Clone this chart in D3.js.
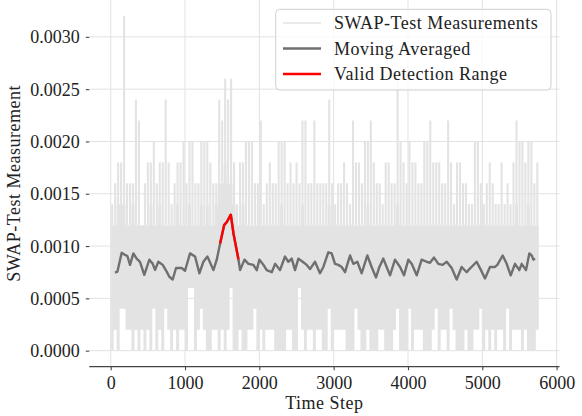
<!DOCTYPE html>
<html>
<head>
<meta charset="utf-8">
<script src="https://cdn.jsdelivr.net/npm/d3@7"></script>
<style>
  body { margin: 0; background: #fff; }
  svg { display: block; }
  text { font-family: "Liberation Serif", "Times New Roman", serif; fill: #222; }
</style>
</head>
<body>
<svg id="chart" width="582" height="416"></svg>
<script>
// measurement envelope per 40-step bin (units of 1e-4):
// peak = highest spike, band = top of the dense region, low = lowest value
const binSize = 40;
const measHigh = [
  14, 16, 18, 18, 32, 16, 16, 16, 24, 22, 12, 16, 18, 18, 20, 16, 18, 18, 24, 18,
  14, 16, 18, 18, 20, 16, 20, 20, 16, 16, 20, 20, 20, 18, 16, 16, 24, 22, 26, 24,
  26, 18, 14, 18, 18, 20, 20, 20, 16, 16, 22, 14, 16, 18, 16, 16, 20, 20, 20, 16,
  18, 16, 18, 16, 22, 22, 16, 16, 22, 16, 16, 16, 16, 24, 16, 14, 16, 16, 18, 16,
  14, 22, 18, 18, 16, 20, 20, 22, 18, 16, 16, 14, 18, 18, 16, 16, 26, 20, 18, 16,
  20, 18, 18, 16, 16, 20, 20, 22, 18, 18, 18, 16, 16, 22, 18, 14, 18, 18, 16, 16,
  14, 14, 20, 20, 16, 14, 16, 18, 16, 14, 14, 18, 14, 16, 14, 18, 22, 20, 20, 18,
  20, 20, 16, 18
];
const measBand = [
  12, 12, 14, 14, 14, 12, 12, 14, 12, 12, 12, 12, 12, 14, 12, 12, 14, 12, 12, 12,
  12, 12, 14, 12, 12, 12, 14, 12, 12, 12, 14, 12, 14, 12, 12, 14, 16, 16, 18, 16,
  16, 14, 12, 12, 14, 12, 12, 12, 12, 12, 12, 12, 12, 12, 12, 12, 12, 14, 12, 12,
  12, 12, 12, 12, 14, 12, 12, 12, 12, 12, 12, 12, 12, 14, 12, 12, 12, 12, 12, 12,
  12, 12, 12, 12, 12, 12, 14, 12, 12, 12, 12, 12, 12, 12, 12, 12, 14, 12, 12, 12,
  12, 12, 12, 12, 12, 12, 12, 12, 12, 12, 12, 12, 12, 12, 12, 12, 12, 12, 12, 12,
  12, 12, 12, 12, 12, 12, 12, 12, 12, 12, 12, 12, 12, 12, 12, 12, 14, 12, 12, 12,
  14, 12, 12, 12
];
const measLow = [
  0, 2, 0, 4, 4, 2, 2, 0, 2, 0, 2, 0, 2, 0, 4, 0, 2, 0, 4, 2,
  0, 2, 0, 2, 2, 0, 6, 6, 0, 2, 4, 2, 0, 0, 2, 2, 0, 2, 0, 2,
  6, 0, 0, 2, 0, 0, 2, 2, 4, 0, 2, 0, 2, 2, 2, 0, 0, 0, 0, 2,
  2, 0, 0, 6, 2, 0, 2, 2, 0, 2, 2, 0, 0, 4, 0, 2, 2, 2, 2, 0,
  0, 0, 4, 2, 0, 0, 2, 0, 0, 0, 2, 2, 0, 0, 0, 2, 4, 0, 0, 0,
  4, 0, 2, 2, 2, 0, 0, 0, 2, 4, 0, 2, 2, 0, 4, 2, 0, 0, 0, 2,
  0, 0, 2, 2, 4, 0, 2, 0, 2, 0, 2, 2, 0, 4, 0, 2, 2, 2, 0, 2,
  0, 0, 0, 2
];

// moving average (units of 1e-4)
const maSteps = [
  58, 90, 148, 193, 224, 260, 305, 349, 394, 452, 520, 565, 597, 641, 700, 753, 789, 834, 879, 955,
  1000, 1067, 1135, 1193, 1247, 1301, 1382, 1427, 1472, 1526, 1562, 1616, 1652, 1719, 1741, 1800, 1853, 1920, 1965, 2001,
  2055, 2099, 2167, 2212, 2278, 2345, 2390, 2435, 2480, 2525, 2583, 2637, 2682, 2749, 2816, 2861, 2928, 2973, 3018, 3063,
  3108, 3153, 3220, 3265, 3318, 3377, 3453, 3511, 3570, 3615, 3668, 3713, 3758, 3825, 3893, 3946, 4005, 4050, 4117, 4184,
  4251, 4296, 4350, 4408, 4467, 4521, 4588, 4655, 4722, 4790, 4826, 4924, 4982, 5036, 5103, 5171, 5202, 5274, 5328, 5382,
  5440, 5498, 5530, 5588, 5633, 5664, 5687, 5709
];
const maValues = [
  7.46, 7.55, 9.37, 9.15, 9.05, 8.2, 9.3, 8.8, 8.5, 7.25, 8.7, 8.3, 7.72, 8.5, 8.2, 7.55, 7.07, 6.8, 7.9, 7.9,
  7.64, 9.3, 9.0, 7.4, 8.5, 9.0, 7.7, 8.7, 10.25, 12.0, 12.3, 13.0, 11.2, 8.72, 7.7, 8.7, 8.3, 8.2, 7.7, 8.7,
  8.2, 7.7, 7.5, 8.3, 7.7, 9.0, 8.5, 8.8, 7.7, 8.8, 8.5, 8.2, 7.8, 8.5, 7.4, 8.0, 9.4, 9.3, 8.3, 8.2,
  8.0, 7.5, 9.1, 8.3, 8.5, 7.4, 9.1, 8.0, 7.0, 8.0, 8.8, 8.0, 7.2, 8.7, 8.0, 7.2, 8.7, 8.3, 7.2, 8.7,
  8.5, 8.4, 8.9, 8.3, 8.2, 8.5, 7.9, 6.8, 8.0, 7.5, 7.8, 8.5, 7.7, 6.9, 8.0, 8.0, 8.2, 9.1, 8.3, 7.2,
  8.3, 7.7, 8.3, 7.7, 9.3, 9.1, 8.7, 8.8
];
const detectStart = 1472;
const detectEnd = 1719;

const xTicks = [0, 1000, 2000, 3000, 4000, 5000, 6000];
const yTicks = [0, 0.0005, 0.001, 0.0015, 0.002, 0.0025, 0.003];
const legendLabels = ["SWAP-Test Measurements", "Moving Averaged", "Valid Detection Range"];
const legendColors = ["#e3e3e3", "#6f6f6f", "#ff0000"];

const svg = d3.select("#chart");

const x = d3.scaleLinear().domain([-288, 6048]).range([89.3, 560.2]);
const y = d3.scaleLinear().domain([-0.00016, 0.00336]).range([367.4, -0.8]);
const plotLeft = 89.3, plotRight = 559.5, plotBottom = 366.7;

// grid
svg.append("g")
   .selectAll("line")
   .data(yTicks)
   .enter()
   .append("line")
   .attr("x1", plotLeft)
   .attr("x2", plotRight)
   .attr("y1", d => y(d))
   .attr("y2", d => y(d))
   .attr("stroke", "#e2e2e2")
   .attr("stroke-width", 1);

svg.append("g")
   .selectAll("line")
   .data(xTicks)
   .enter()
   .append("line")
   .attr("x1", d => x(d))
   .attr("x2", d => x(d))
   .attr("y1", 0)
   .attr("y2", plotBottom)
   .attr("stroke", "#e2e2e2")
   .attr("stroke-width", 1);

// measurements: dense band plus spikes
const bins = measHigh.map((h, i) => ({
    t: i * binSize,
    high: h * 1e-4,
    band: measBand[i] * 1e-4,
    low: measLow[i] * 1e-4
}));

const band = d3.area()
    .curve(d3.curveStepAfter)
    .x(d => x(d.t))
    .y0(d => y(d.low))
    .y1(d => y(d.band));

svg.append("path")
   .datum(bins.concat([{ t: bins.length * binSize, low: bins[bins.length - 1].low, band: bins[bins.length - 1].band }]))
   .attr("fill", legendColors[0])
   .attr("d", band);

svg.append("g")
   .selectAll("line")
   .data(bins)
   .enter()
   .append("line")
   .attr("x1", d => x(d.t + binSize / 2))
   .attr("x2", d => x(d.t + binSize / 2))
   .attr("y1", d => y(d.band))
   .attr("y2", d => y(d.high))
   .attr("stroke", legendColors[0])
   .attr("stroke-width", 2.1);

// moving average
const line = d3.line().x(d => x(d[0])).y(d => y(d[1]));
const maPoints = maSteps.map((s, i) => [s, maValues[i] * 1e-4]);

svg.append("path")
   .datum(maPoints)
   .attr("fill", "none")
   .attr("stroke", legendColors[1])
   .attr("stroke-width", 2.4)
   .attr("stroke-linejoin", "round")
   .attr("d", line);

svg.append("path")
   .datum(maPoints.filter(d => d[0] >= detectStart && d[0] <= detectEnd))
   .attr("fill", "none")
   .attr("stroke", legendColors[2])
   .attr("stroke-width", 2.4)
   .attr("stroke-linejoin", "round")
   .attr("d", line);

// axes
const xAxis = svg.append("g")
   .attr("transform", `translate(0,${plotBottom})`)
   .call(d3.axisBottom(x).tickValues(xTicks).tickFormat(d3.format("d")).tickSize(3.5).tickPadding(6));
xAxis.select(".domain")
     .attr("d", `M${plotLeft},0H${plotRight}`)
     .attr("stroke", "#444")
     .attr("stroke-width", 1.2);

const yAxis = svg.append("g")
   .attr("transform", `translate(${plotLeft},0)`)
   .call(d3.axisLeft(y).tickValues(yTicks).tickFormat(d3.format(".4f")).tickSize(3.5).tickPadding(6));
yAxis.select(".domain").remove();

svg.selectAll(".tick line").attr("stroke", "#444").attr("stroke-width", 1.1);
svg.selectAll(".tick text")
   .style("font-family", "'Liberation Serif', serif")
   .style("font-size", "18px")
   .attr("fill", "#222");
yAxis.selectAll(".tick text").attr("dy", "0.34em");

svg.append("text")
   .attr("x", (plotLeft + plotRight) / 2)
   .attr("y", 409)
   .attr("text-anchor", "middle")
   .style("font-size", "18px")
   .style("letter-spacing", "0.5px")
   .text("Time Step");

svg.append("text")
   .attr("transform", `translate(20,${plotBottom / 2}) rotate(-90)`)
   .attr("text-anchor", "middle")
   .style("font-size", "18px")
   .style("letter-spacing", "0.5px")
   .text("SWAP-Test Measurement");

// legend
const legend = svg.append("g");

legend.append("rect")
      .attr("x", 275.7)
      .attr("y", 9.3)
      .attr("width", 275.3)
      .attr("height", 80.7)
      .attr("rx", 4)
      .attr("fill", "rgba(255,255,255,0.8)")
      .attr("stroke", "#d0d0d0");

legendLabels.forEach((label, i) => {
    const rowY = 23 + i * 25.5;
    legend.append("line")
          .attr("x1", 283)
          .attr("x2", 321)
          .attr("y1", rowY)
          .attr("y2", rowY)
          .attr("stroke", legendColors[i])
          .attr("stroke-width", i === 0 ? 1.6 : 2.4);
    legend.append("text")
          .attr("x", 334)
          .attr("y", rowY)
          .attr("dy", "0.34em")
          .style("font-size", "18px")
          .style("letter-spacing", "0.5px")
          .text(label);
});
</script>
</body>
</html>
